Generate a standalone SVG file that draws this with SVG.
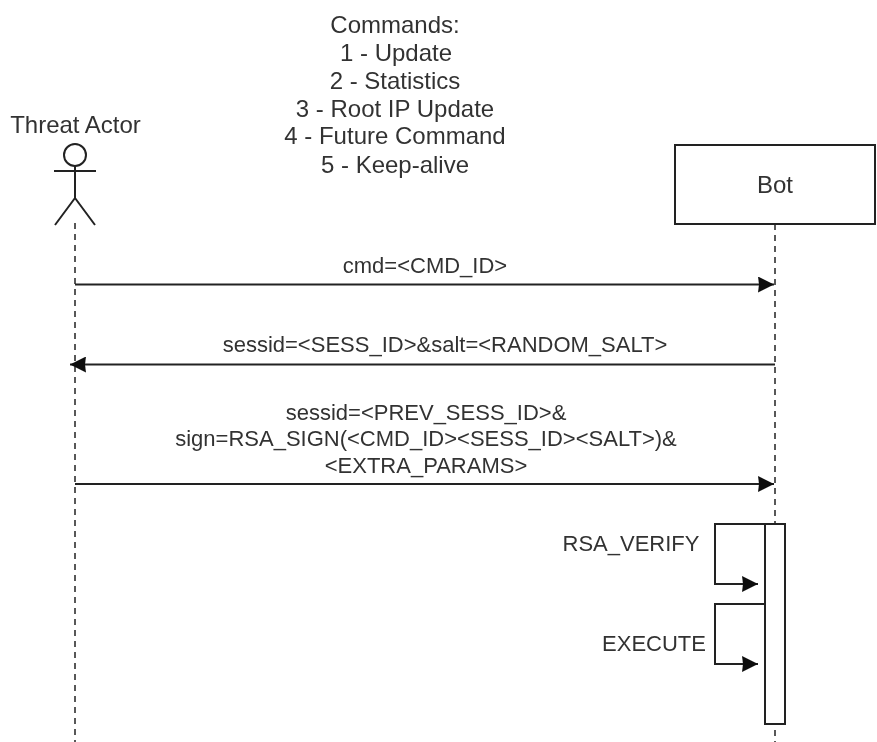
<svg xmlns="http://www.w3.org/2000/svg" width="877" height="742" viewBox="0 0 877 742">
<style>
text{font-family:"Liberation Sans",Arial,sans-serif;font-size:22px;fill:#333;text-anchor:middle}
.b{font-size:24px}
.s{stroke:#222;stroke-width:2;fill:none}
.d{stroke:#222;stroke-width:1.5;stroke-dasharray:6 5;fill:none}
g{filter:url(#soft)}
g g{filter:none}
</style>
<defs>
<filter id="soft" x="0" y="0" width="877" height="742" filterUnits="userSpaceOnUse"><feGaussianBlur stdDeviation="0.6"/></filter>
<marker id="a" markerUnits="userSpaceOnUse" markerWidth="17" markerHeight="16" refX="16" refY="8" orient="auto"><path d="M0 0L16 8L0 16L1 8Z" fill="#111"/></marker>
</defs>
<rect width="877" height="742" fill="#fff"/>
<g id="connectors">
<path class="d" d="M75 223V742"/>
<path class="d" d="M775 224V742"/>
<path class="s" marker-end="url(#a)" d="M75 284.500H774"/>
<path class="s" marker-end="url(#a)" d="M775 364.500H70"/>
<path class="s" marker-end="url(#a)" d="M75 484H774"/>
<path class="s" marker-end="url(#a)" d="M765 524H715V584H758"/>
<path class="s" marker-end="url(#a)" d="M765 604H715V664H758"/>
</g>
<g id="commands"><text class="b" x="395" y="33">Commands:</text><text class="b" x="396" y="61">1 - Update</text><text class="b" x="395" y="89">2 - Statistics</text><text class="b" x="395" y="117">3 - Root IP Update</text><text class="b" x="395" y="144">4 - Future Command</text><text class="b" x="395" y="173">5 - Keep-alive</text></g>
<g id="actor"><text class="b" x="75.500" y="133">Threat Actor</text><circle class="s" cx="75" cy="155" r="11"/><path class="s" d="M75 166V198M54 171H96M75 198L55 225M75 198L95 225"/></g>
<g id="bot"><rect x="675" y="145" width="200" height="79" fill="#fff" stroke="#222" stroke-width="2"/><text class="b" x="775" y="193">Bot</text></g>
<g id="activation"><rect x="765" y="524" width="20" height="200" fill="#fff" stroke="#222" stroke-width="2"/></g>
<g id="labels">
<text x="425" y="273">cmd=&lt;CMD_ID&gt;</text>
<text x="445" y="352">sessid=&lt;SESS_ID&gt;&amp;salt=&lt;RANDOM_SALT&gt;</text>
<text x="426" y="420">sessid=&lt;PREV_SESS_ID&gt;&amp;</text>
<text x="426" y="446">sign=RSA_SIGN(&lt;CMD_ID&gt;&lt;SESS_ID&gt;&lt;SALT&gt;)&amp;</text>
<text x="426" y="473">&lt;EXTRA_PARAMS&gt;</text>
<text x="631" y="551">RSA_VERIFY</text>
<text x="654" y="651">EXECUTE</text>
</g>
</svg>
